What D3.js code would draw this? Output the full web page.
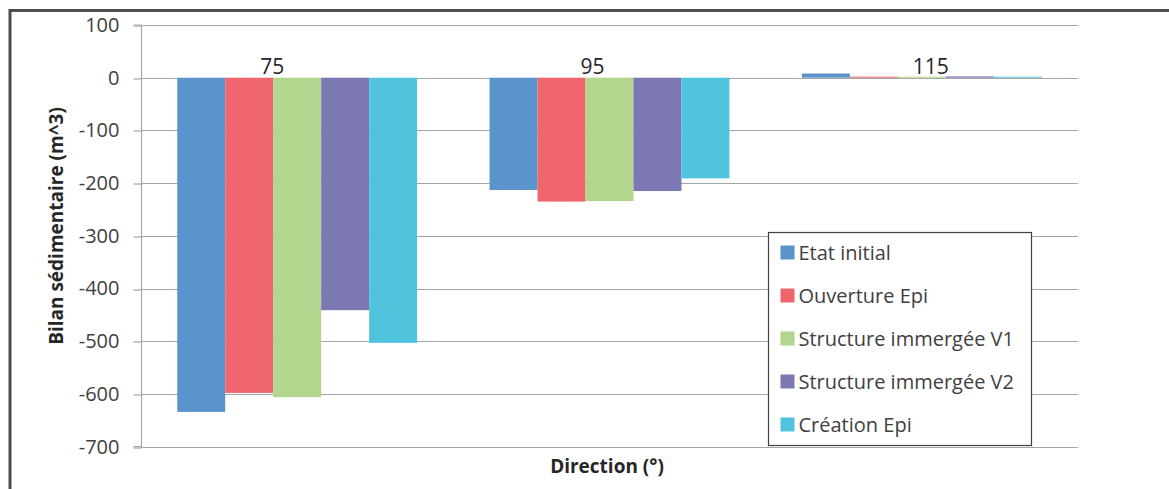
<!DOCTYPE html>
<html>
<head>
<meta charset="utf-8">
<script src="https://cdn.jsdelivr.net/npm/d3@7"></script>
<style>
  html, body { margin: 0; padding: 0; background: #fff; }
  svg { display: block; font-family: "Open Sans", sans-serif; }
</style>
</head>
<body>
<svg id="chart" width="1169" height="489"></svg>
<script>
// Directions (degrees) on the category axis
const directions = ["75", "95", "115"];

// Scenario names and their sediment balance (m^3) for each direction
const seriesNames = [
  "Etat initial",
  "Ouverture Epi",
  "Structure immergée V1",
  "Structure immergée V2",
  "Création Epi"
];
const etatInitial     = [-634, -213, 8];
const ouvertureEpi    = [-598, -235, 2];
const structureV1     = [-606, -234, 2];
const structureV2     = [-441, -215, 2.5];
const creationEpi     = [-503, -191, 2];
const seriesValues = [etatInitial, ouvertureEpi, structureV1, structureV2, creationEpi];

const seriesColors = ["#5b93cc", "#ef676d", "#b3d68f", "#7c78b4", "#4fc4dc"];

// Value axis ticks
const yTicks = [100, 0, -100, -200, -300, -400, -500, -600, -700];

const svg = d3.select("#chart");

// Outer frame of the chart area
svg.append("path")
  .attr("d", "M10,1000 L10,10.5 L1400,10.5")
  .attr("fill", "none")
  .attr("stroke", "#4d4d4d")
  .attr("stroke-width", 3);

const plot = { left: 141, right: 1078, top: 25, bottom: 446.7 };

const y = d3.scaleLinear()
  .domain([-700, 100])
  .range([plot.bottom, plot.top]);

const x0 = d3.scaleBand()
  .domain(directions)
  .range([plot.left, plot.right])
  .paddingInner(0.232)
  .paddingOuter(0.116);

const x1 = d3.scaleBand()
  .domain(seriesNames)
  .range([0, x0.bandwidth()]);

// Horizontal gridlines
svg.append("g")
  .selectAll("line")
  .data(yTicks)
  .join("line")
  .attr("x1", plot.left)
  .attr("x2", plot.right)
  .attr("y1", d => Math.round(y(d)) + 0.5)
  .attr("y2", d => Math.round(y(d)) + 0.5)
  .attr("stroke", "#a6a6a6")
  .attr("stroke-width", 1.2);

// Value axis
const yAxis = d3.axisLeft(y)
  .tickValues(yTicks)
  .tickSize(8)
  .tickPadding(14)
  .tickFormat(d => String(d));

const yAxisG = svg.append("g")
  .attr("transform", `translate(${plot.left + 0.5},0)`)
  .call(yAxis);
yAxisG.select(".domain").attr("stroke", "#a6a6a6").attr("stroke-width", 1.2)
  .attr("d", `M-8,${y(100)}H0V${y(-700)}H-8`);
yAxisG.selectAll(".tick line").attr("stroke", "#a6a6a6").attr("stroke-width", 1.2)
  .attr("transform", d => `translate(0,${Math.round(y(d)) + 0.5 - y(d)})`);
yAxisG.selectAll(".tick text")
  .attr("fill", "#404040")
  .style("font-size", "20px")
  .style("font-family", "'Open Sans', sans-serif");

// Bars
const groups = svg.append("g")
  .selectAll("g")
  .data(directions)
  .join("g")
  .attr("transform", d => `translate(${x0(d)},0)`);

groups.selectAll("rect")
  .data((d, i) => seriesNames.map((name, s) => ({ name, value: seriesValues[s][i], color: seriesColors[s] })))
  .join("rect")
  .attr("x", d => x1(d.name))
  .attr("width", x1.bandwidth())
  .attr("y", d => Math.min(y(d.value), y(0)))
  .attr("height", d => Math.abs(y(d.value) - y(0)))
  .attr("fill", d => d.color);

// Category labels sit just above the zero line
const labelShift = [-25, -17, 9];
svg.append("g")
  .selectAll("text")
  .data(directions)
  .join("text")
  .attr("x", (d, i) => x0(d) + x0.bandwidth() / 2 + labelShift[i])
  .attr("y", y(0) - 4)
  .attr("text-anchor", "middle")
  .attr("fill", "#262626")
  .style("font-size", "21px")
  .text(d => d);

// Axis titles
svg.append("text")
  .attr("transform", `translate(63,226) rotate(-90)`)
  .attr("text-anchor", "middle")
  .attr("fill", "#262626")
  .style("font-size", "19px")
  .style("font-weight", "bold")
  .text("Bilan sédimentaire (m^3)");

svg.append("text")
  .attr("x", 607)
  .attr("y", 473)
  .attr("text-anchor", "middle")
  .attr("fill", "#262626")
  .style("font-size", "19px")
  .style("font-weight", "bold")
  .text("Direction (°)");

// Legend
const legend = svg.append("g").attr("transform", "translate(768.5,232.5)");
legend.append("rect")
  .attr("width", 263)
  .attr("height", 213)
  .attr("fill", "#fff")
  .attr("stroke", "#404040")
  .attr("stroke-width", 1.2);

const items = legend.selectAll("g.item")
  .data(seriesNames)
  .join("g")
  .attr("class", "item")
  .attr("transform", (d, i) => `translate(12,${20 + i * 43})`);

items.append("rect")
  .attr("y", -7)
  .attr("width", 14)
  .attr("height", 14)
  .attr("fill", (d, i) => seriesColors[i]);

items.append("text")
  .attr("x", 18)
  .attr("dy", "0.35em")
  .attr("fill", "#404040")
  .style("font-size", "20px")
  .text(d => d);
</script>
</body>
</html>
